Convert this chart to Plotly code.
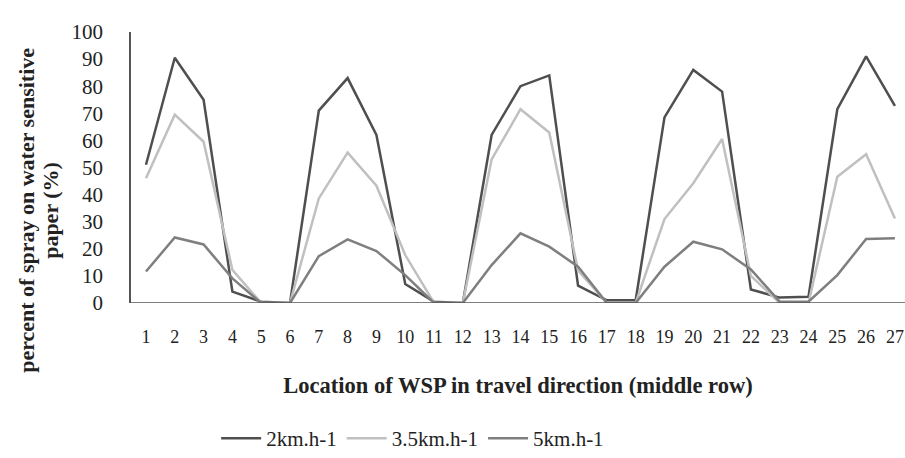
import plotly.graph_objects as go

locations = list(range(1, 28))
speed_2 = [51, 90.5, 75, 4.2, 0.5, 0, 71, 83, 62, 7, 0.5, 0, 62, 80, 84, 6.4, 1, 1,
           68.5, 86, 78, 5, 2, 2.3, 71.5, 91, 72.7]
speed_35 = [46, 69.5, 59.5, 12.2, 0, 0, 38.6, 55.5, 43.3, 17.7, 0, 0, 53, 71.5, 62.9, 12, 0, 0,
            31, 44.2, 60.5, 10, 0, 0, 46.6, 54.9, 31.2]
speed_5 = [11.6, 24.2, 21.6, 9.1, 0, 0, 17.3, 23.5, 19.2, 10.3, 0, 0, 14, 25.7, 20.8, 13.4, 0, 0,
           13.4, 22.6, 19.8, 12.4, 0.5, 0.5, 10.3, 23.6, 23.9]
series_names = ["2km.h-1", "3.5km.h-1", "5km.h-1"]
y_ticks = list(range(0, 101, 10))
y_title_lines = ["percent of spray on water sensitive", "paper (%)"]

colors = ["#4f4f4f", "#c0c0c0", "#7f7f7f"]
font = "Liberation Serif"

fig = go.Figure()
for name, vals, c in zip(series_names, [speed_2, speed_35, speed_5], colors):
    fig.add_trace(go.Scatter(x=locations, y=vals, mode="lines", name=name,
                             line=dict(color=c, width=2.5)))

fig.update_layout(
    width=905, height=458,
    margin=dict(l=131, r=0, t=32, b=155, autoexpand=False),
    paper_bgcolor="white", plot_bgcolor="white",
    font=dict(family=font, color="#222222"),
    showlegend=True,
    legend=dict(orientation="h", x=0.11, xanchor="left", y=-0.5, yanchor="middle",
                font=dict(family=font, size=21, color="#222222"),
                itemwidth=40, tracegroupgap=0),
    xaxis=dict(range=[0.48, 27.35], tickmode="array", tickvals=locations,
               ticktext=[str(v) for v in locations], showgrid=False, zeroline=False,
               showline=False, ticks="", tickfont=dict(family=font, size=18, color="#222222"),
               ticklabelstandoff=21, automargin=False,
               title=dict(text="<b>Location of WSP in travel direction (middle row)</b>",
                          font=dict(family=font, size=22.5, color="#222222"), standoff=31)),
    yaxis=dict(range=[0, 100], tickvals=y_ticks, showgrid=False, zeroline=False,
               showline=True, linecolor="#555555", linewidth=1.5, ticks="", automargin=False,
               tickfont=dict(family=font, size=21, color="#222222"), ticklabelstandoff=22),
)

fig.add_shape(type="line", xref="paper", yref="y", x0=0, x1=1, y0=0, y1=0,
              line=dict(color="#555555", width=1.5))

plot_w = 905 - 131
for line_text, px in zip(y_title_lines, [27, 51]):
    fig.add_annotation(text="<b>" + line_text + "</b>",
                       xref="paper", yref="paper", x=(px - 131) / plot_w, y=0.34,
                       xanchor="center", yanchor="middle",
                       textangle=-90, showarrow=False,
                       font=dict(family=font, size=22, color="#222222"))

fig.write_html("out.html", post_script="document.body.style.margin='0px';",
               config={"displayModeBar": False})
